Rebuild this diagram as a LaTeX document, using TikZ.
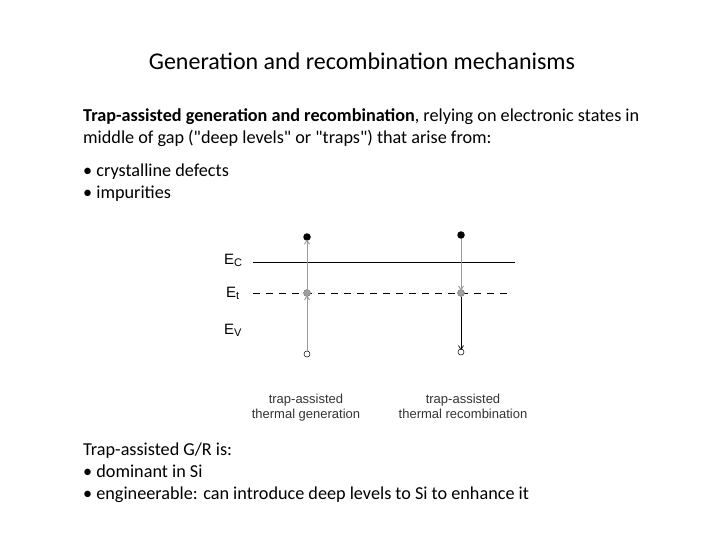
\documentclass[tikz,border=0pt]{standalone}
\usepackage{fontspec}
\setmainfont{Carlito}[Ligatures=TeXOff]
\newfontfamily\arialfont{Liberation Sans}
\usetikzlibrary{arrows.meta}
\begin{document}
\begin{tikzpicture}[x=1pt,y=-1pt,
  txt/.style={anchor=base west,inner sep=0pt,font=\fontsize{18.2}{22}\selectfont},
  lvl/.style={anchor=base west,inner sep=0pt,font=\arialfont\fontsize{15}{16}\selectfont},
  captext/.style={inner sep=0pt,align=center,text=black!80,font=\arialfont\fontsize{13}{15}\selectfont},
  edot/.style={circle,fill=black,inner sep=0pt,minimum size=7.5pt},
  tdot/.style={circle,fill=gray!75,draw=gray!90!black,line width=0.4pt,inner sep=0pt,minimum size=7pt},
  hdot/.style={circle,draw=black,line width=0.5pt,fill=white,inner sep=0pt,minimum size=6pt},
  garr/.style={draw=gray!80,line width=0.9pt,-{Straight Barb[length=4pt,width=5pt]}},
  barr/.style={draw=black,line width=0.7pt,-{Straight Barb[length=4pt,width=5pt]}}]
\useasboundingbox (0,0) rectangle (720,540);
\newcommand{\lsub}[1]{\raisebox{-2pt}{\fontsize{11}{12}\selectfont #1}}
% title
\node[anchor=base,inner sep=0pt,font=\fontsize{24}{28}\selectfont] (title) at (362,70) {Generation and recombination mechanisms};
% paragraph
\node[txt] (p1) at (83,122) {\textbf{Trap-assisted generation and recombination}, relying on electronic states in};
\node[txt] (p2) at (83,144) {middle of gap ("deep levels" or "traps") that arise from:};
\node[txt] (b1) at (83,177) {\textbullet\ crystalline defects};
\node[txt] (b2) at (83,199) {\textbullet\ impurities};
% band diagram
\coordinate (ecL) at (253,262);
\coordinate (ecR) at (515,262);
\coordinate (etL) at (253,293);
\coordinate (etR) at (512,293);
\draw[line width=0.7pt] (ecL) -- (ecR);
\draw[line width=0.7pt,dash pattern=on 7pt off 6pt] (etL) -- (etR);
\node[lvl] (Ec) at (224,264) {E\lsub{C}};
\node[lvl] (Et) at (226,297) {E\lsub{t}};
\node[lvl] (Ev) at (224,334) {E\lsub{V}};
% left: generation
\node[edot] (e1) at (307,237) {};
\node[tdot] (t1) at (307,293) {};
\node[hdot] (h1) at (307,354) {};
\draw[garr] (t1) -- ([yshift=1.5pt]e1.south);
\draw[garr] (h1) -- ([yshift=1.5pt]t1.south);
% right: recombination
\node[edot] (e2) at (461,235) {};
\node[tdot] (t2) at (461,293) {};
\node[hdot] (h2) at (461,352) {};
\draw[garr] (e2) -- ([yshift=-1.5pt]t2.north);
\draw[barr] (t2) -- ([yshift=-1.5pt]h2.north);
% captions
\node[captext,anchor=base] (c1) at (306,418) {trap-assisted\\thermal generation};
\node[captext,anchor=base] (c2) at (463,418) {trap-assisted\\thermal recombination};
% bottom text
\node[txt] (q1) at (83,455) {Trap-assisted G/R is:};
\node[txt] (q2) at (83,477) {\textbullet\ dominant in Si};
\node[txt] (q3) at (83,499) {\textbullet\ engineerable: can introduce deep levels to Si to enhance it};
\end{tikzpicture}
\end{document}
